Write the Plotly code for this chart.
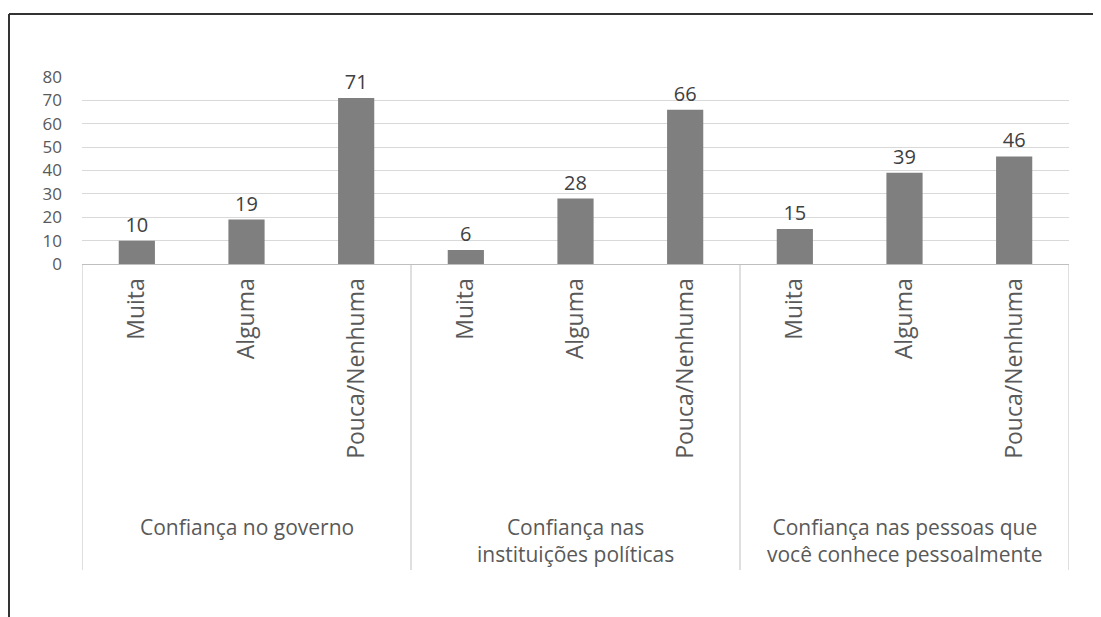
import plotly.graph_objects as go

categories = ["Muita", "Alguma", "Pouca/Nenhuma"] * 3
values = [10, 19, 71, 6, 28, 66, 15, 39, 46]
groups = ["Confiança no governo",
          "Confiança nas<br>instituições políticas",
          "Confiança nas pessoas que<br>você conhece pessoalmente"]
yticks = [0, 10, 20, 30, 40, 50, 60, 70, 80]

FONT = "Open Sans"
xs = list(range(len(values)))

# page body has an 8px margin; work in screen pixels and shift
OFF = 8
W, H = 1101 - OFF, 617 - OFF
L, R, T, B = 82 - OFF, 1069 - OFF, 77 - OFF, 264 - OFF

fig = go.Figure()
fig.add_trace(go.Bar(
    x=xs, y=values, width=0.33,
    marker=dict(color="#7f7f7f", line=dict(width=0)),
    text=[str(v) for v in values], textposition="outside",
    textfont=dict(family=FONT, size=20, color="#404040"),
    cliponaxis=False,
))

fig.update_layout(
    width=W, height=H,
    margin=dict(l=L, r=W - R, t=T, b=H - B, pad=0),
    paper_bgcolor="white", plot_bgcolor="white",
    showlegend=False,
    font=dict(family=FONT, color="#595959"),
    xaxis=dict(
        range=[-0.5, 8.5], tickmode="array", tickvals=xs, ticktext=categories,
        tickangle=-90, tickfont=dict(size=23, color="#595959"),
        showgrid=False, zeroline=False, showline=True, linecolor="#bfbfbf",
        ticks="", fixedrange=True, ticklabelstandoff=4,
    ),
    yaxis=dict(
        range=[0, 80], tickmode="array", tickvals=yticks,
        tickfont=dict(size=17, color="#595959"),
        showgrid=True, gridcolor="#d9d9d9", gridwidth=1,
        zeroline=False, showline=False, ticks="", ticklabelstandoff=19,
    ),
)

pw, ph = R - L, B - T
def py(spx):
    return (B - (spx - OFF)) / ph
def px(spx):
    return ((spx - OFF) - L) / pw

# group dividers
for xv in [-0.5, 2.5, 5.5, 8.5]:
    fig.add_shape(type="line", xref="x", yref="paper", x0=xv, x1=xv,
                  y0=0, y1=py(570), line=dict(color="#bfbfbf", width=1))

# group labels
for i, g in enumerate(groups):
    fig.add_annotation(x=3 * i + 1, y=py(511), xref="x", yref="paper",
                       text=g, showarrow=False, yanchor="top", xanchor="center",
                       font=dict(family=FONT, size=21, color="#595959"))

# frame (top and left)
fig.add_shape(type="line", xref="paper", yref="paper",
              x0=px(9), x1=px(1101), y0=py(14), y1=py(14),
              line=dict(color="#333333", width=2))
fig.add_shape(type="line", xref="paper", yref="paper",
              x0=px(9), x1=px(9), y0=py(14), y1=py(617),
              line=dict(color="#333333", width=2))

fig.write_html("out.html")
